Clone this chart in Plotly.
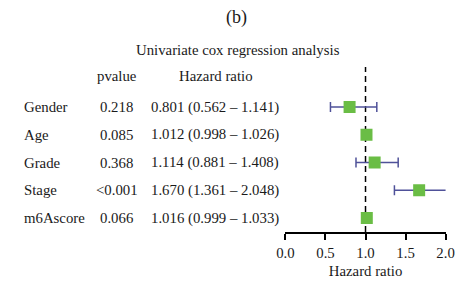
import plotly.graph_objects as go

variables = ["Gender", "Age", "Grade", "Stage", "m6Ascore"]
pvalues = ["0.218", "0.085", "0.368", "<0.001", "0.066"]
hr = [0.801, 1.012, 1.114, 1.670, 1.016]
hr_low = [0.562, 0.998, 0.881, 1.361, 0.999]
hr_high = [1.141, 1.026, 1.408, 2.048, 1.033]
x_ticks = [0.0, 0.5, 1.0, 1.5, 2.0]
x_ticklabels = ["0.0", "0.5", "1.0", "1.5", "2.0"]

W, H = 469, 287
FONT = "Liberation Serif"
TXT = "#1a1a1a"
FS = 14.8

n = len(variables)
ypos = [n - i for i in range(n)]  # 5..1

hr_text = [f"{h:.3f} ({l:.3f} \u2013 {u:.3f})" for h, l, u in zip(hr, hr_low, hr_high)]

fig = go.Figure()
fig.add_trace(go.Scatter(
    x=hr, y=ypos, mode="markers",
    marker=dict(symbol="square", size=12, color="#6abd45", line=dict(width=0)),
    error_x=dict(type="data", symmetric=False,
                 array=[u - h for h, u in zip(hr, hr_high)],
                 arrayminus=[h - l for h, l in zip(hr, hr_low)],
                 color="#4f5199", thickness=1.5, width=5),
    hoverinfo="skip", showlegend=False,
))

fig.add_shape(type="line", xref="x", yref="paper", x0=1, x1=1, y0=0, y1=1,
              line=dict(color="black", width=1.5, dash="6px,4px"), layer="below")

annotations = []
for y, v, p, t in zip(ypos, variables, pvalues, hr_text):
    annotations.append(dict(x=14 / W, xref="paper", y=y, yref="y", text=v,
                            xanchor="left", yanchor="middle", showarrow=False,
                            font=dict(family=FONT, size=FS, color=TXT)))
    annotations.append(dict(x=112 / W, xref="paper", y=y, yref="y", text=p,
                            xanchor="center", yanchor="middle", showarrow=False,
                            font=dict(family=FONT, size=FS, color=TXT)))
    annotations.append(dict(x=214 / W, xref="paper", y=y, yref="y", text=t,
                            xanchor="center", yanchor="middle", showarrow=False,
                            font=dict(family=FONT, size=FS, color=TXT)))

top, bottom = 67, 55
ph = H - top - bottom

def py(px):
    return 1 + (top - px) / ph

annotations.append(dict(x=112.5 / W, xref="paper", y=py(76), yref="paper", text="pvalue",
                        xanchor="center", yanchor="middle", showarrow=False,
                        font=dict(family=FONT, size=FS, color=TXT)))
annotations.append(dict(x=215 / W, xref="paper", y=py(76), yref="paper", text="Hazard ratio",
                        xanchor="center", yanchor="middle", showarrow=False,
                        font=dict(family=FONT, size=FS, color=TXT)))
annotations.append(dict(x=238 / W, xref="paper", y=py(50), yref="paper",
                        text="Univariate cox regression analysis",
                        xanchor="center", yanchor="middle", showarrow=False,
                        font=dict(family=FONT, size=FS, color=TXT)))
annotations.append(dict(x=237 / W, xref="paper", y=py(17), yref="paper", text="(b)",
                        xanchor="center", yanchor="middle", showarrow=False,
                        font=dict(family=FONT, size=18, color=TXT)))

fig.update_layout(
    width=W, height=H,
    margin=dict(l=0, r=0, t=top, b=bottom),
    paper_bgcolor="white", plot_bgcolor="white",
    annotations=annotations,
    xaxis=dict(domain=[287.5 / W, 454 / W], range=[0, 2],
               tickvals=x_ticks, ticktext=x_ticklabels,
               showline=True, linecolor="black", linewidth=1.5,
               ticks="outside", ticklen=6, tickwidth=1.5, tickcolor="black",
               showgrid=False, zeroline=False,
               tickfont=dict(family=FONT, size=FS, color=TXT),
               title=dict(text="Hazard ratio", font=dict(family=FONT, size=FS, color=TXT), standoff=6)),
    yaxis=dict(range=[0.5, 6.44], visible=False, showgrid=False, zeroline=False),
)

fig.write_html("out.html", config={"displayModeBar": False},
               post_script="document.body.style.margin='0';")
